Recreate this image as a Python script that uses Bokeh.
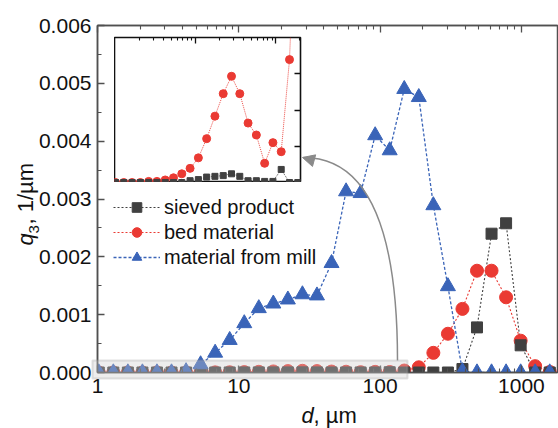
from math import pi
from bokeh.plotting import figure
from bokeh.models import (Range1d, LogAxis, LinearAxis, FixedTicker, PrintfTickFormatter,
                          Legend, LegendItem, Label, BoxAnnotation, Arrow, NormalHead,
                          ColumnDataSource)
from bokeh.embed import file_html
from bokeh.resources import INLINE

# ---------------- data ----------------
d_um = [1.021, 1.294, 1.640, 2.079, 2.635, 3.340, 4.233, 5.366, 6.801, 8.620,
        10.93, 13.85, 17.55, 22.25, 28.20, 35.74, 45.30, 57.42, 72.78, 92.25,
        116.9, 148.2, 187.8, 238.1, 301.8, 382.5, 484.8, 614.5, 778.9, 987.3,
        1251.0, 1586.0]

sieved_product = [0, 0, 0, 0, 0, 0, 0, 0, 0.0, 0.5e-6,
                  0.8e-6, 1.5e-6, 1.7e-6, 1.9e-6, 2.4e-6, 1.7e-6, 0.5e-6, 0.5e-6, 0.3e-6, 0.3e-6,
                  3.6e-6, 0.0, 0.0, 0.0, 0.0, 0.00006, 0.00078, 0.0024, 0.00258, 0.00047,
                  0.0, 0.0]

bed_material = [0, 0, 0, 0, 0.3e-6, 0.3e-6, 0.7e-6, 1.3e-6, 2.4e-6, 3.9e-6,
                6.8e-6, 12.1e-6, 18.3e-6, 24.5e-6, 29.3e-6, 24.5e-6, 16.4e-6, 13.1e-6, 5.3e-6, 11.0e-6,
                8.5e-6, 33.9e-6, 0.00009, 0.00034, 0.00067, 0.00110, 0.00176, 0.00176, 0.00130, 0.00055,
                0.00011, 0.00001]

material_from_mill = [0, 0, 0, 0, 0, 0, 0.00002, 0.00014, 0.00034, 0.00056,
                      0.00085, 0.00111, 0.00119, 0.00126, 0.00135, 0.00133, 0.00189, 0.00313, 0.00310, 0.00410,
                      0.00384, 0.00490, 0.00476, 0.00289, 0.00149, 0.00002, 0, 0, 0, 0,
                      0, 0]

series_names = ["sieved product", "bed material", "material from mill"]

x_major = [1, 10, 100, 1000]
x_minor = [2, 3, 4, 5, 6, 7, 8, 9, 20, 30, 40, 50, 60, 70, 80, 90,
           200, 300, 400, 500, 600, 700, 800, 900]
y_major = [0.0, 0.001, 0.002, 0.003, 0.004, 0.005, 0.006]
y_minor = [0.0005, 0.0015, 0.0025, 0.0035, 0.0045, 0.0055]
inset_y_major = [1e-5, 2e-5, 3e-5]

# ---------------- style ----------------
FONT = "Liberation Sans"
C_BLACK = "#404040"
C_RED = "#ea3a33"
C_BLUE = "#3a64b8"
AX = "#505050"
TXT = "#111111"

src = ColumnDataSource(dict(d=d_um, sieved=sieved_product, bed=bed_material, mill=material_from_mill))

# ---------------- main figure ----------------
p = figure(width=558, height=428, x_axis_type="log",
           x_range=Range1d(1, 1800), y_range=Range1d(0, 0.006),
           output_backend="svg", toolbar_location=None,
           min_border_left=97, min_border_right=1, min_border_top=25, min_border_bottom=56)
p.xgrid.visible = False
p.ygrid.visible = False
p.outline_line_color = AX
p.outline_line_width = 1.5
p.background_fill_color = "white"


def style_axis(ax, labels=True):
    ax.axis_line_color = AX
    ax.axis_line_width = 1.5
    ax.major_tick_line_color = AX
    ax.minor_tick_line_color = AX
    ax.major_tick_line_width = 1.3
    ax.minor_tick_line_width = 1.1
    ax.major_tick_in = 7
    ax.major_tick_out = 0
    ax.minor_tick_in = 4
    ax.minor_tick_out = 0
    ax.axis_label = None
    if labels:
        ax.major_label_text_font = FONT
        ax.major_label_text_font_size = "21px"
        ax.major_label_text_color = TXT
        ax.major_label_standoff = 6
    else:
        ax.major_label_text_font_size = "1px"
        ax.major_label_text_alpha = 0
        ax.major_label_standoff = 0


p.xaxis[0].ticker = FixedTicker(ticks=x_major, minor_ticks=x_minor)
p.xaxis[0].formatter = PrintfTickFormatter(format="%d")
p.yaxis[0].ticker = FixedTicker(ticks=y_major, minor_ticks=y_minor)
p.yaxis[0].formatter = PrintfTickFormatter(format="%.3f")
style_axis(p.xaxis[0])
style_axis(p.yaxis[0])

top_ax = LogAxis(ticker=FixedTicker(ticks=x_major, minor_ticks=x_minor))
style_axis(top_ax, labels=False)
p.add_layout(top_ax, "above")

l1 = p.line("d", "sieved", source=src, line_color=C_BLACK, line_width=1.1, line_dash="2 2")
l2 = p.line("d", "bed", source=src, line_color=C_RED, line_width=1.1, line_dash="2 2")
l3 = p.line("d", "mill", source=src, line_color=C_BLUE, line_width=1.3, line_dash="3 2")
m2 = p.scatter("d", "bed", source=src, marker="circle", size=13, fill_color=C_RED, line_color=C_RED)
m1 = p.scatter("d", "sieved", source=src, marker="square", size=11, fill_color=C_BLACK, line_color=C_BLACK)
m3 = p.scatter("d", "mill", source=src, marker="triangle", size=15, fill_color=C_BLUE, line_color=C_BLUE)

legend = Legend(items=[LegendItem(label=series_names[0], renderers=[l1, m1]),
                       LegendItem(label=series_names[1], renderers=[l2, m2]),
                       LegendItem(label=series_names[2], renderers=[l3, m3])],
                location=(16, 103), label_text_font=FONT, label_text_font_size="20px",
                label_text_color=TXT, glyph_width=47, glyph_height=24, label_height=24,
                spacing=1, padding=0, margin=0, label_standoff=4,
                border_line_color=None, background_fill_alpha=0)
p.add_layout(legend)

# ---------------- inset figure (own root, positioned over the main plot) ----------------
ins = figure(width=198, height=157, x_axis_type="log",
             x_range=Range1d(0.992, 203), y_range=Range1d(0, 4e-5),
             output_backend="svg", toolbar_location=None,
             x_axis_location=None, y_axis_location=None,
             min_border_left=0, min_border_bottom=0, min_border_top=12, min_border_right=12)
ins.xgrid.visible = False
ins.ygrid.visible = False
ins.border_fill_alpha = 0
ins.background_fill_color = "white"
ins.outline_line_color = TXT
ins.outline_line_width = 1.6

itop = LogAxis(ticker=FixedTicker(ticks=[10, 100], minor_ticks=x_minor))
style_axis(itop, labels=False)
itop.axis_line_color = None
itop.major_tick_line_color = TXT
itop.minor_tick_line_color = TXT
itop.major_tick_in = 6
itop.minor_tick_in = 3
ins.add_layout(itop, "above")
iright = LinearAxis(ticker=FixedTicker(ticks=inset_y_major, minor_ticks=[]))
style_axis(iright, labels=False)
iright.axis_line_color = None
iright.major_tick_line_color = TXT
iright.major_tick_in = 6
ins.add_layout(iright, "right")

ins.line("d", "bed", source=src, line_color=C_RED, line_width=0.9, line_dash="1 1")
ins.scatter("d", "bed", source=src, marker="circle", size=8, fill_color=C_RED, line_color=C_RED)
ins.line("d", "sieved", source=src, line_color=C_BLACK, line_width=0.9, line_dash="1 1")
ins.scatter("d", "sieved", source=src, marker="square", size=6, fill_color=C_BLACK, line_color=C_BLACK)
ins.styles = {"position": "absolute", "left": "114px", "top": "25px"}

# ---------------- overlay in page pixels (y measured from the bottom) ----------------
ov = figure(width=558, height=428, x_range=Range1d(0, 558), y_range=Range1d(0, 428),
            output_backend="svg", toolbar_location=None,
            x_axis_location=None, y_axis_location=None,
            min_border_left=0, min_border_right=0, min_border_top=0, min_border_bottom=0)
ov.xgrid.visible = False
ov.ygrid.visible = False
ov.outline_line_color = None
ov.background_fill_alpha = 0
ov.border_fill_alpha = 0
ov.styles = {"position": "absolute", "left": "0px", "top": "0px"}

ov.add_layout(BoxAnnotation(left=92, right=407, top=68, bottom=50,
                            fill_color="#cccccc", fill_alpha=0.35,
                            line_color="#9a9a9a", line_width=2))
ov.bezier(x0=[397], y0=[68], x1=[303], y1=[271], cx0=[397], cy0=[203], cx1=[366], cy1=[271],
          line_color="#8a8a8a", line_width=1.5)
ov.add_layout(Arrow(end=NormalHead(size=12, fill_color="#8a8a8a", line_color="#8a8a8a"),
                    x_start=313, y_start=268, x_end=302, y_end=271,
                    line_color="#8a8a8a", line_width=1.5))


def txt(x, y, s, size="22px", style="normal", angle=0.0):
    ov.add_layout(Label(x=x, y=y, text=s, angle=angle, text_font=FONT, text_font_style=style,
                        text_font_size=size, text_align="left", text_baseline="middle",
                        text_color=TXT))


txt(25, 183, "q", style="italic", angle=pi / 2)
txt(33, 195, "3", size="15px", angle=pi / 2)
txt(25, 204, ", 1/\u00b5m", angle=pi / 2)
txt(301, 13, "d", style="italic")
txt(313, 13, ", \u00b5m")

open("out.html", "w").write(file_html([p, ins, ov], INLINE))
